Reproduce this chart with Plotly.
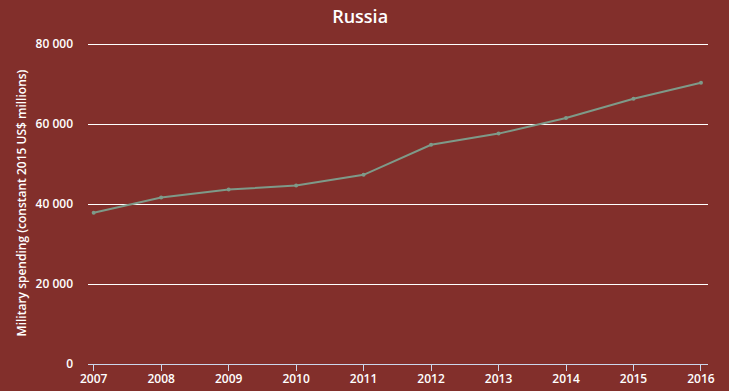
import plotly.graph_objects as go

years = [2007, 2008, 2009, 2010, 2011, 2012, 2013, 2014, 2015, 2016]
spending = [37800, 41600, 43600, 44600, 47300, 54800, 57600, 61500, 66300, 70300]
y_ticks = [0, 20000, 40000, 60000, 80000]

BG = "#822F2B"
LINE = "#7E9A89"
AXIS = "#CCD6EB"
FONT = "Open Sans, DejaVu Sans, sans-serif"

fig = go.Figure()
fig.add_trace(go.Scatter(
    x=years, y=spending, mode="lines+markers",
    line=dict(color=LINE, width=2),
    marker=dict(color=LINE, size=4),
    hoverinfo="x+y", showlegend=False,
))

fig.update_layout(
    width=729, height=391,
    paper_bgcolor=BG, plot_bgcolor=BG,
    margin=dict(l=88, r=21, t=42, b=27),
    separators=". ",
    font=dict(family=FONT, color="white", size=11),
    title=dict(text="Russia", x=0.494, xref="container", xanchor="center",
               y=1 - 17 / 391, yref="container", yanchor="middle",
               font=dict(family=FONT, size=18, color="white", weight=600)),
)

fig.update_xaxes(
    range=[2006.916, 2016.104], automargin=False,
    tickmode="array", tickvals=years, ticktext=[str(y) for y in years],
    showgrid=False, zeroline=False,
    showline=True, linecolor=AXIS, linewidth=1,
    ticks="outside", ticklen=6, tickcolor=AXIS, tickwidth=1,
    ticklabelstandoff=-2,
    tickfont=dict(family=FONT, size=12, color="white", weight=600),
)
fig.update_yaxes(
    range=[0, 80500], automargin=False,
    tickmode="array", tickvals=y_ticks,
    tickformat=",d",
    showgrid=True, gridcolor="white", gridwidth=1,
    zeroline=False, showline=False,
    ticks="", ticklabelstandoff=14,
    tickfont=dict(family=FONT, size=12, color="white", weight=600),
    title=dict(text="Military spending (constant 2015 US$ millions)",
               font=dict(family=FONT, size=12, color="white", weight=600), standoff=6),
)

fig.write_html("out.html")
